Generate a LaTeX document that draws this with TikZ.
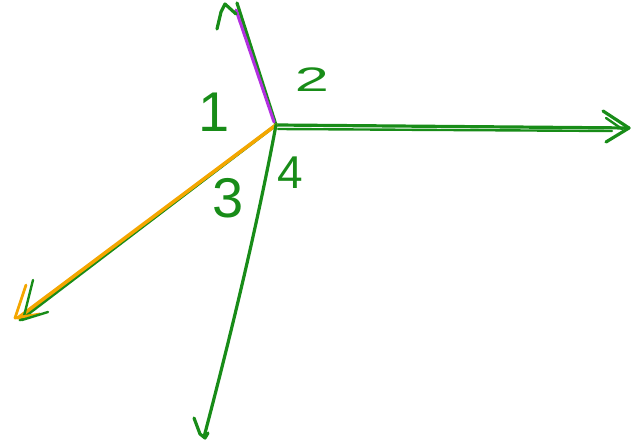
\documentclass[tikz,border=0pt]{standalone}
\usepackage{fontspec}
\setmainfont{Liberation Sans}
\begin{document}
\begin{tikzpicture}[x=1pt,y=-1pt,
  pen/.style={line width=3.2pt,line cap=round,line join=round},
  gpen/.style={pen,draw=penGreen},
  ppen/.style={pen,draw=penPurple,line width=3pt},
  open/.style={pen,draw=penOrange,line width=3.6pt},
  lbl/.style={text=penGreen,inner sep=0pt}]
\definecolor{penGreen}{RGB}{24,140,24}
\definecolor{penPurple}{RGB}{178,48,224}
\definecolor{penOrange}{RGB}{244,166,0}
\useasboundingbox (0,0) rectangle (631,446);
% key points
\coordinate (O) at (276,125);
\coordinate (Up) at (237,3);
\coordinate (UpP) at (236,10);
\coordinate (R) at (629,128);
\coordinate (LL) at (20,320);
\coordinate (D) at (204,437);
% up line with purple overlay
\draw[gpen] (Up) -- (O);
\draw[ppen] (UpP) -- (274,122);
\draw[gpen] (217,29) -- (221,12) -- (225,4) -- (236,14);
% right arrow (double stroke)
\draw[gpen] (O) -- (R);
\draw[gpen,line width=2.4pt] (O) ++(2,4) -- (612,131);
\draw[gpen] (603,111) -- (R) -- (606,142);
\draw[gpen,line width=2.4pt] (606,118) -- (622,129);
% lower-left arrow
\draw[gpen] (O) -- (LL);
\draw[open] (O) -- (18,318);
\draw[gpen,line width=2.4pt] (33,280) -- (24,316);
\draw[open,line width=2.8pt] (26,285) -- (15,318) -- (40,314);
\draw[gpen,line width=2.4pt] (22,320) -- (48,312);
% down line with hook
\draw[gpen] (O) .. controls (262,200) and (240,300) .. (D);
\draw[gpen] (194,418) -- (200,434) -- (205,438) -- (208,433);
% labels
\node[lbl,font=\fontsize{56}{56}\selectfont] (l1) at (214,112) {1};
\node[lbl,font=\fontsize{34}{34}\selectfont,xscale=1.8] (l2) at (312,80) {2};
\node[lbl,font=\fontsize{56}{56}\selectfont] (l3) at (228,198) {3};
\node[lbl,font=\fontsize{46}{46}\selectfont] (l4) at (290,173) {4};
\end{tikzpicture}
\end{document}
